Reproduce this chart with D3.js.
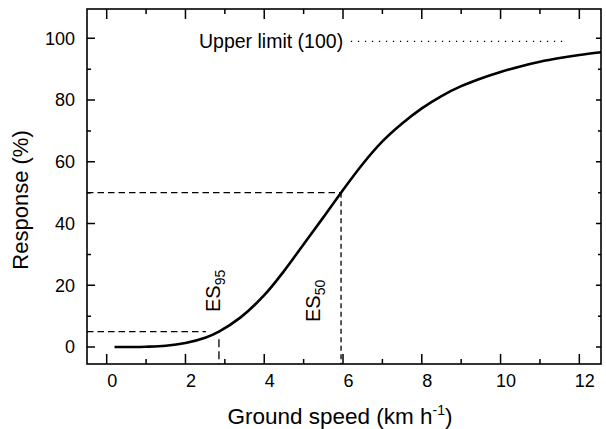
<!DOCTYPE html>
<html><head><meta charset="utf-8">
<script src="https://cdn.jsdelivr.net/npm/d3@7"></script>
<style>html,body{margin:0;padding:0;background:#fff;}svg{display:block;}text{font-family:"Liberation Sans",Arial,Helvetica,sans-serif;fill:#000;}</style>
</head><body>
<svg id="c" width="606" height="429"></svg>
<script>
// ---- data ----
const speeds    = [0.2, 0.5, 1.0, 1.5, 2.0, 2.5, 2.85, 3.4, 4.0, 4.5, 5.0, 5.5, 5.95, 6.5, 7.0, 7.5, 8.0, 8.5, 9.0, 9.5, 10.0, 10.5, 11.0, 11.5, 12.0, 12.55];
const responses = [0.0, 0.02, 0.1, 0.4, 1.3, 3.0, 5.0, 9.6, 16.8, 24.6, 33.3, 42.0, 50.0, 59.3, 66.6, 72.4, 77.3, 81.3, 84.5, 87.0, 89.1, 90.9, 92.4, 93.6, 94.6, 95.5];
const xTicks = [0, 2, 4, 6, 8, 10, 12];
const xMinor = [1, 3, 5, 7, 9, 11];
const yTicks = [0, 20, 40, 60, 80, 100];
const yMinor = [10, 30, 50, 70, 90];
const esNames  = ["95", "50"];
const esSpeeds = [2.85, 5.95];
const esLevels = [5, 50];
const upperLimit = 100;

const svg = d3.select("#c");
const L = 87, R = 601, T = 9, B = 364;
const x = d3.scaleLinear().domain([-0.5, 12.55]).range([L, R]);
const y = d3.scaleLinear().domain([-5.5, 109.5]).range([B, T]);

// tick labels via d3 axes
function clean(g){ g.select(".domain").remove(); g.selectAll(".tick line").remove(); }
const xb = svg.append("g").attr("transform",`translate(0,${B})`)
  .call(d3.axisBottom(x).tickValues(xTicks).tickSize(0).tickPadding(10).tickFormat(d3.format("d")))
  .call(clean);
xb.selectAll("text").attr("font-size",18).attr("dx",5).attr("fill","#000");
const yl = svg.append("g").attr("transform",`translate(${L},0)`)
  .call(d3.axisLeft(y).tickValues(yTicks).tickSize(0).tickPadding(12).tickFormat(d3.format("d")))
  .call(clean);
yl.selectAll("text").attr("font-size",18).attr("fill","#000");

// inward tick marks, built from the scales as one path
let td = "";
xTicks.forEach(v=>{ const px=x(v); td += `M${px},${B}V${B-10}M${px},${T}V${T+10}`; });
xMinor.forEach(v=>{ const px=x(v); td += `M${px},${B}V${B-5}M${px},${T}V${T+5}`; });
yTicks.forEach(v=>{ const py=y(v); td += `M${L},${py}H${L+8}M${R},${py}H${R-5}`; });
yMinor.forEach(v=>{ const py=y(v); td += `M${L},${py}H${L+4}M${R},${py}H${R-3}`; });
svg.append("path").attr("d",td).attr("fill","none").attr("stroke","#000").attr("stroke-width",1.5);

// frame
svg.append("rect").attr("x",L).attr("y",T).attr("width",R-L).attr("height",B-T)
  .attr("fill","none").attr("stroke","#000").attr("stroke-width",1.6);

// reference dashed lines
const dash = "6.5,4";
svg.append("line").attr("x1",x(-0.5)).attr("x2",x(esSpeeds[1])).attr("y1",y(esLevels[1])).attr("y2",y(esLevels[1]))
  .attr("stroke","#000").attr("stroke-width",1.3).attr("stroke-dasharray",dash);
svg.append("line").attr("x1",x(esSpeeds[1])).attr("x2",x(esSpeeds[1])).attr("y1",y(esLevels[1])).attr("y2",B)
  .attr("stroke","#000").attr("stroke-width",1.3).attr("stroke-dasharray","5,3.5");
svg.append("line").attr("x1",x(-0.5)).attr("x2",x(2.52)).attr("y1",y(esLevels[0])).attr("y2",y(esLevels[0]))
  .attr("stroke","#000").attr("stroke-width",1.3).attr("stroke-dasharray",dash);
svg.append("line").attr("x1",x(esSpeeds[0])).attr("x2",x(esSpeeds[0])).attr("y1",y(2.5)).attr("y2",B)
  .attr("stroke","#000").attr("stroke-width",1.3).attr("stroke-dasharray","8,4");

// upper limit dotted line + label
svg.append("line").attr("x1",x(6.2)).attr("x2",x(11.65)).attr("y1",y(upperLimit-1)).attr("y2",y(upperLimit-1))
  .attr("stroke","#000").attr("stroke-width",1.3).attr("stroke-dasharray","1.3,5.7");
svg.append("text").attr("x",199).attr("y",y(upperLimit-1)+6.5).attr("font-size",19.5).text(`Upper limit (${upperLimit})`);

// curve
const pts = speeds.map((s,i)=>[s,responses[i]]);
svg.append("path").datum(pts)
  .attr("d", d3.line().x(d=>x(d[0])).y(d=>y(d[1])).curve(d3.curveCatmullRom))
  .attr("fill","none").attr("stroke","#000").attr("stroke-width",2.6);

// ES labels (rotated)
const esPos = [[220,312],[320,322]];
esNames.forEach((n,i)=>{
  const t = svg.append("text").attr("transform",`translate(${esPos[i][0]},${esPos[i][1]}) rotate(-90)`).attr("font-size",20);
  t.append("tspan").text("ES");
  t.append("tspan").attr("font-size",14).attr("dy",5).text(n);
});

// axis titles
const xtt = svg.append("text").attr("x",340).attr("y",424).attr("text-anchor","middle").attr("font-size",22.5);
xtt.append("tspan").text("Ground speed (km h");
xtt.append("tspan").attr("font-size",14).attr("dy",-9).text("-1");
xtt.append("tspan").attr("dy",9).text(")");
svg.append("text").attr("transform",`translate(28,${200}) rotate(-90)`).attr("text-anchor","middle").attr("font-size",22).text("Response (%)");
</script>
</body></html>
